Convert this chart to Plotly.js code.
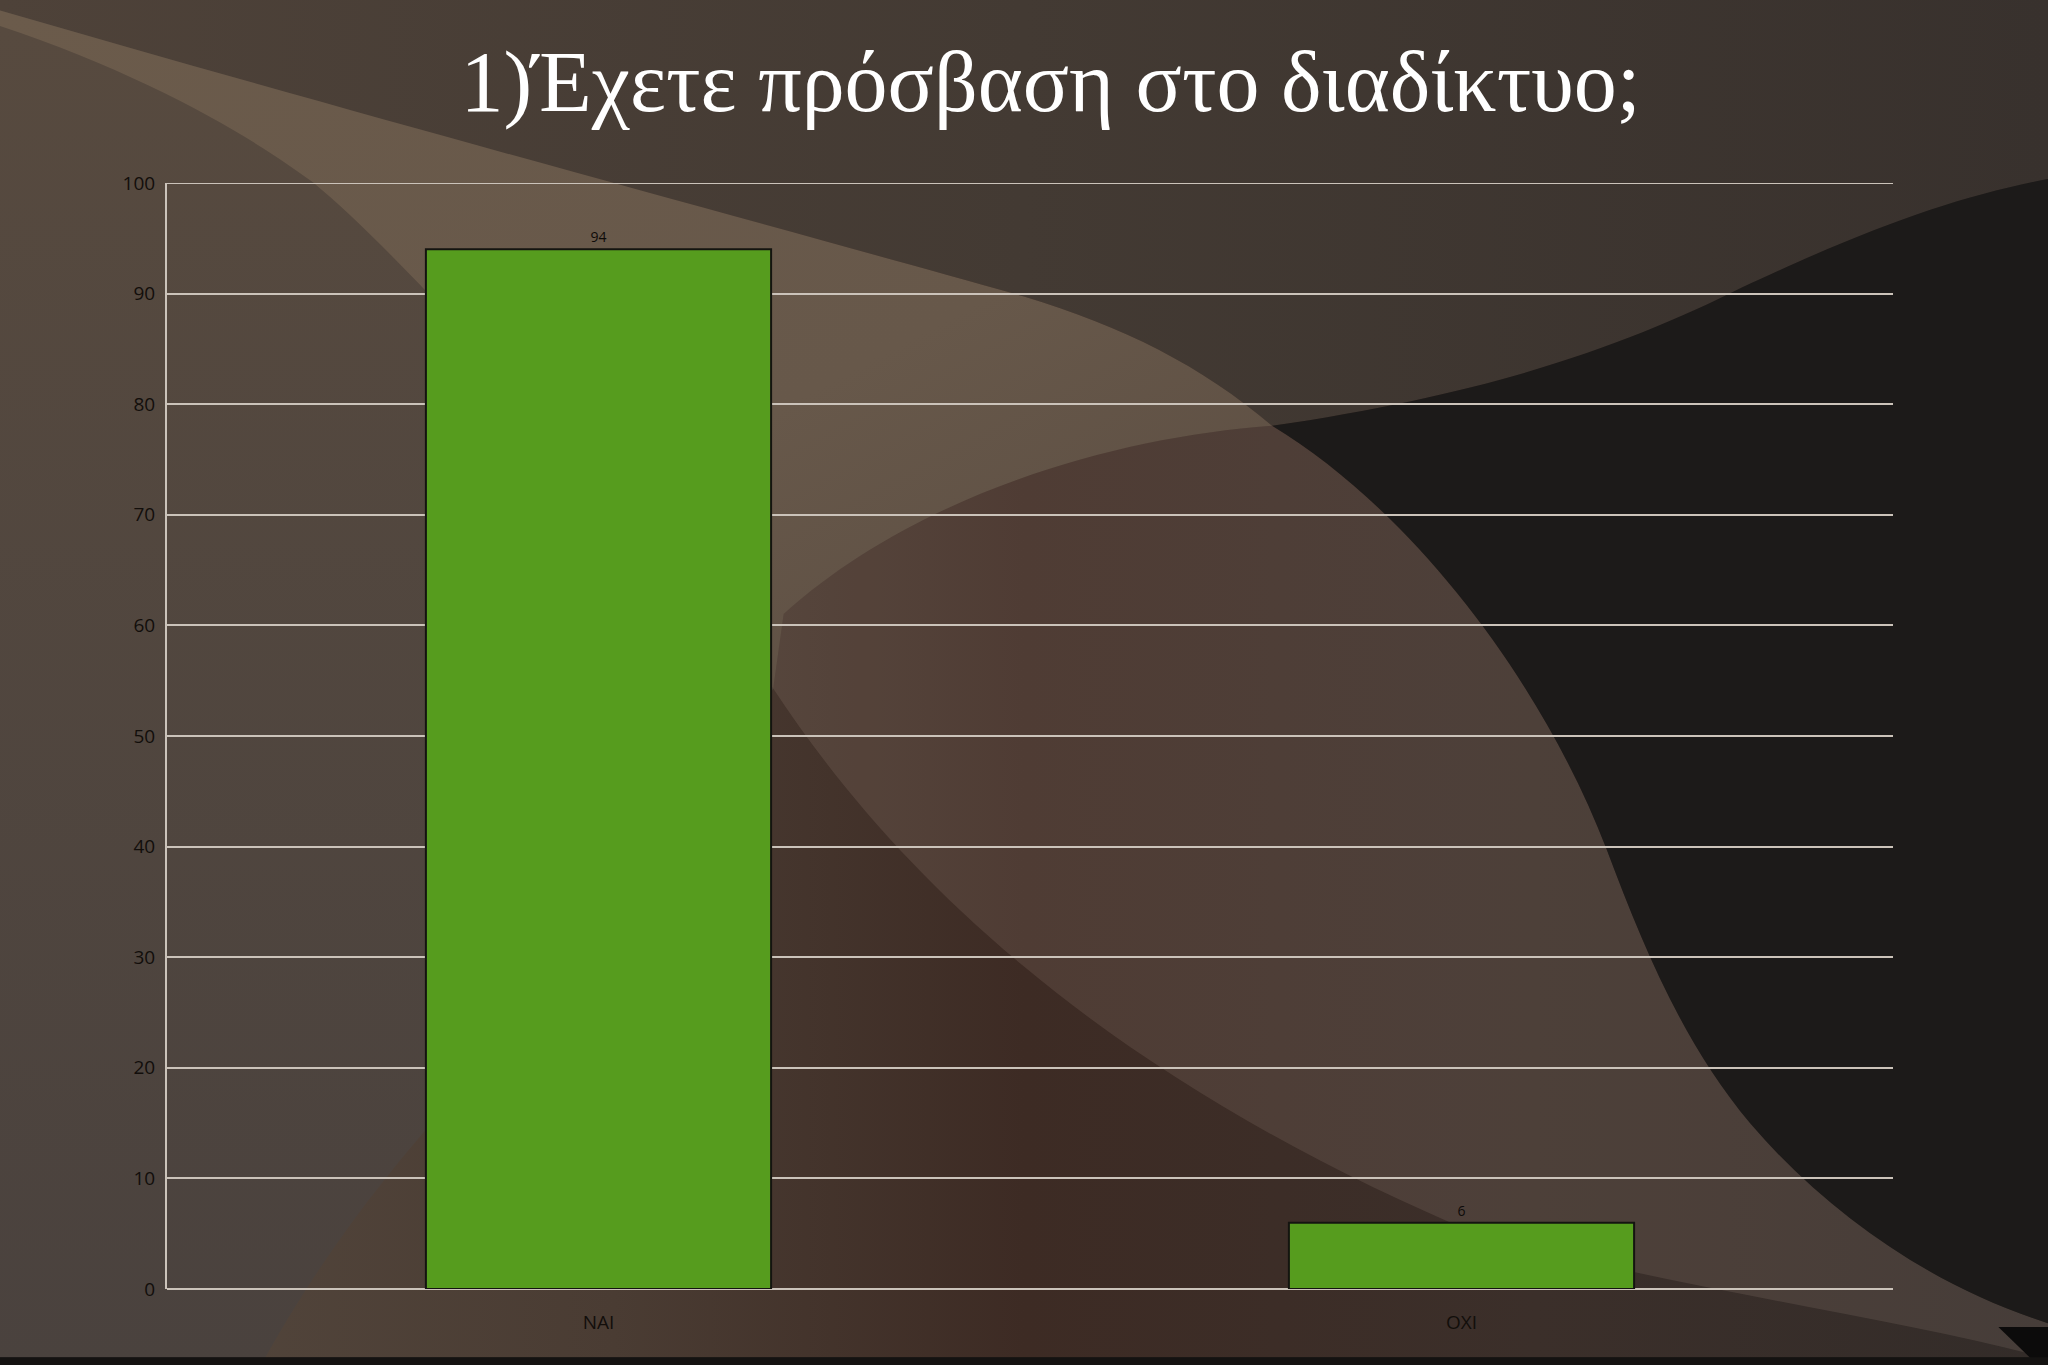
<!DOCTYPE html>
<html>
<head>
<meta charset="utf-8">
<script src="https://cdn.plot.ly/plotly-3.0.1.min.js"></script>
<style>
  html, body { margin: 0; padding: 0; width: 2048px; height: 1365px; overflow: hidden; background: #3a302a; }
  #bg { position: absolute; left: 0; top: 0; width: 2048px; height: 1365px; z-index: 0; }
  #chart { position: absolute; left: 0; top: 0; width: 2048px; height: 1365px; z-index: 1; }
</style>
</head>
<body>
<svg id="bg" viewBox="0 0 1568 1045" preserveAspectRatio="none" xmlns="http://www.w3.org/2000/svg">
  <defs>
    <linearGradient id="base" x1="0" y1="0" x2="1" y2="0">
      <stop offset="0" stop-color="#55493f"/>
      <stop offset="0.3" stop-color="#4a3c33"/>
      <stop offset="0.5" stop-color="#3d2b24"/>
      <stop offset="0.75" stop-color="#3b2f2a"/>
      <stop offset="1" stop-color="#332c29"/>
    </linearGradient>
    <linearGradient id="top" x1="0" y1="0" x2="1" y2="0">
      <stop offset="0" stop-color="#4e4239"/>
      <stop offset="0.5" stop-color="#433a33"/>
      <stop offset="1" stop-color="#38312d"/>
    </linearGradient>
    <linearGradient id="cone" x1="0" y1="0" x2="1" y2="1">
      <stop offset="0" stop-color="#6b5b4b"/>
      <stop offset="0.6" stop-color="#67584a"/>
      <stop offset="1" stop-color="#5a4c41"/>
    </linearGradient>
    <linearGradient id="left" x1="0" y1="0" x2="0" y2="1">
      <stop offset="0" stop-color="#574a3f"/>
      <stop offset="1" stop-color="#4a423e"/>
    </linearGradient>
  </defs>
  <rect x="0" y="0" width="1568" height="1045" fill="url(#base)"/>
  <path d="M0,20 C120,60 200,110 240,140 C300,190 400,300 450,367 C500,430 550,480 592,527 C520,640 420,760 325,866 C270,930 230,990 200,1045 L0,1045 Z" fill="url(#left)"/>
  <path d="M0,0 H1568 V137 C1500,150 1434,173 1334,220 C1250,262 1150,300 974,326 C920,280 860,250 784,227 C600,175 300,95 0,8 Z" fill="url(#top)"/>
  <path d="M0,8 C300,95 600,175 784,227 C860,250 920,280 974,326 C850,335 700,380 600,470 L592,527 C550,480 500,430 450,367 C400,300 300,190 240,140 C200,110 120,60 0,20 Z" fill="url(#cone)"/>
  <path d="M600,470 C700,380 850,335 974,326 C1080,390 1180,520 1230,650 C1260,730 1290,800 1340,860 C1400,930 1480,985 1568,1013 L1568,1040 C1450,1008 1300,990 1134,946 C1000,890 880,820 784,740 C700,670 640,600 592,527 Z" fill="rgba(210,190,170,0.12)"/>
  <path d="M1568,137 C1500,150 1434,173 1334,220 C1250,262 1150,300 974,326 C1080,390 1180,520 1230,650 C1260,730 1290,800 1340,860 C1400,930 1480,985 1568,1013 Z" fill="#1c1a19"/>
  <path d="M1530,1016 L1568,1016 L1568,1045 L1560,1045 Z" fill="#0c0b0b"/>
  <rect x="0" y="1039" width="1568" height="6" fill="#141211"/>
</svg>
<div id="chart"></div>
<script>
  // Data
  const categories = ["NAI", "OXI"];
  const values = [94, 6];
  const yTickValues = [0, 10, 20, 30, 40, 50, 60, 70, 80, 90, 100];
  const chartTitle = "1)Έχετε πρόσβαση στο διαδίκτυο;";

  const trace = {
    type: "bar",
    x: categories,
    y: values,
    text: values.map(String),
    textposition: "outside",
    cliponaxis: false,
    textfont: { family: "Open Sans, sans-serif", size: 14, color: "#0e0b09" },
    marker: {
      color: "#569c1e",
      line: { color: "#141410", width: 2 }
    },
    hoverinfo: "none"
  };

  const gridColor = "#cbc3ba";
  const tickFont = { family: "Open Sans, sans-serif", size: 19, color: "#120e0b" };
  const yMax = yTickValues[yTickValues.length - 1];

  const layout = {
    width: 2048,
    height: 1365,
    margin: { l: 167, r: 155, t: 183, b: 76, pad: 0 },
    paper_bgcolor: "rgba(0,0,0,0)",
    plot_bgcolor: "rgba(0,0,0,0)",
    showlegend: false,
    bargap: 0.6,
    title: {
      text: chartTitle,
      font: { family: "Liberation Serif, Times New Roman, serif", size: 86, color: "#ffffff" },
      x: 0.513,
      xanchor: "center",
      xref: "container",
      y: 1 - 81 / 1365,
      yanchor: "middle",
      yref: "container"
    },
    xaxis: {
      type: "category",
      range: [-0.5, 1.5],
      showgrid: false,
      zeroline: false,
      showline: false,
      ticks: "",
      tickfont: tickFont,
      ticklabelstandoff: 20
    },
    yaxis: {
      range: [0, yMax],
      tickvals: yTickValues,
      ticktext: yTickValues.map(String),
      showgrid: true,
      gridcolor: gridColor,
      gridwidth: 2,
      zeroline: true,
      zerolinecolor: gridColor,
      zerolinewidth: 2,
      showline: true,
      linecolor: gridColor,
      linewidth: 2,
      ticks: "",
      tickfont: tickFont,
      ticklabelstandoff: 6
    },
    shapes: [
      {
        type: "line", layer: "below",
        xref: "paper", x0: 0, x1: 1,
        yref: "y", y0: yMax, y1: yMax,
        line: { color: gridColor, width: 2 }
      }
    ]
  };

  Plotly.newPlot("chart", [trace], layout, { staticPlot: true, displayModeBar: false });
</script>
</body>
</html>
